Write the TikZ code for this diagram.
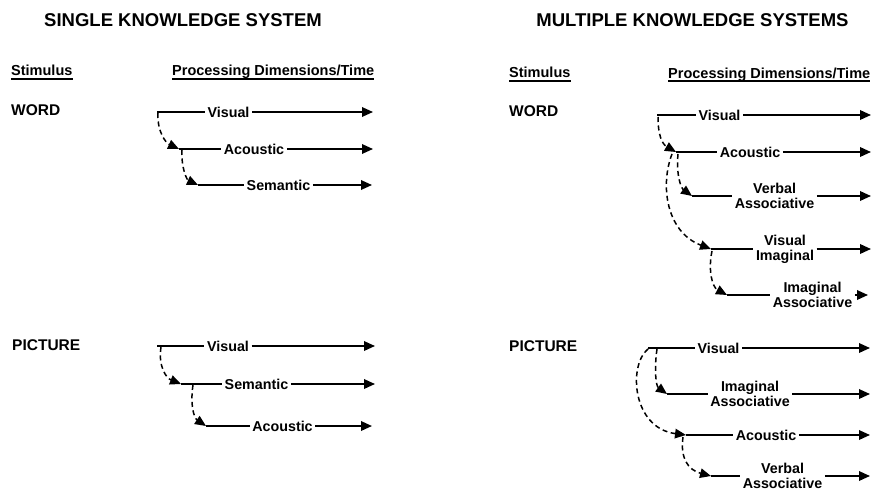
\documentclass[tikz,border=0pt]{standalone}
\usepackage{fontspec}
\setmainfont{Liberation Sans}
\usetikzlibrary{arrows.meta}

% one processing track: start point, label, arrow to the end
% #1 name, #2 start x, #3 label x, #4 end x, #5 y, #6 label text
\newcommand\proctrack[6]{%
  \coordinate (#1s) at (#2,#5);
  \coordinate (#1e) at (#4,#5);
  \node[lbl] (#1) at (#3,#5) {#6};
  \draw[track] (#1s) -- (#1.west);
  \draw[flow] (#1.east) -- (#1e);
}

\begin{document}
\begin{tikzpicture}[x=1pt,y=-1pt,
  title/.style={font=\fontsize{18.5}{20}\selectfont\bfseries, inner sep=0pt, anchor=base},
  head/.style={font=\fontsize{14.5}{16}\selectfont\bfseries, inner sep=0pt, anchor=base west},
  stim/.style={font=\fontsize{15.5}{17}\selectfont\bfseries, inner sep=0pt, anchor=base west},
  lbl/.style={font=\fontsize{14.3}{15}\selectfont\bfseries, inner xsep=2.5pt, inner ysep=0pt, align=center, anchor=center},
  track/.style={line width=1.8pt},
  flow/.style={line width=1.8pt, -{Triangle[length=11pt,width=9.5pt]}},
  spread/.style={line width=1.5pt, dash pattern=on 5pt off 3.5pt, -{Triangle[length=11pt,width=9.5pt]}},
  uline/.style={line width=1.6pt}]

\fill[white] (0,0) rectangle (882,497);
\useasboundingbox (0,0) rectangle (882,497);

% ---- headings ----
\node[title] (tl) at (183,26.3) {SINGLE KNOWLEDGE SYSTEM};
\node[title] (tr) at (692.5,27) {MULTIPLE KNOWLEDGE SYSTEMS};

\node[head] (stl) at (11,76) {Stimulus};
\node[head] (pdl) at (172,76) {Processing Dimensions/Time};
\node[head] (str) at (509,78) {Stimulus};
\node[head] (pdr) at (668,78.5) {Processing Dimensions/Time};
\foreach \h in {stl,pdl,str,pdr}
  \draw[uline] ([yshift=-2.8pt]\h.base west) -- ([yshift=-2.8pt]\h.base east);

\node[stim] (wl) at (11,115.5) {WORD};
\node[stim] (wr) at (509,117) {WORD};
\node[stim] (pl) at (12,350.5) {PICTURE};
\node[stim] (pr) at (509,351) {PICTURE};

% ---- single system, word ----
\proctrack{lw1}{157}{228.5}{373}{112}{Visual}
\proctrack{lw2}{179}{254}{373}{149}{Acoustic}
\proctrack{lw3}{198}{278.5}{372}{185}{Semantic}
\draw[spread] ([xshift=1pt,yshift=-1pt]lw1s) .. controls (157,132) and (166,143) .. (lw2s);
\draw[spread] ([xshift=3pt,yshift=-1pt]lw2s) .. controls (181,168) and (187,180) .. (lw3s);

% ---- single system, picture ----
\proctrack{lp1}{157}{228}{375}{346}{Visual}
\proctrack{lp2}{181}{256.5}{375}{384}{Semantic}
\proctrack{lp3}{206}{282.5}{372}{426}{Acoustic}
\draw[spread] ([xshift=4pt,yshift=-1pt]lp1s) .. controls (158,366) and (166,378) .. (lp2s);
\draw[spread] ([xshift=12pt,yshift=-1pt]lp2s) .. controls (190,405) and (194,418) .. (lp3s);

% ---- multiple systems, word ----
\proctrack{rw1}{657}{719.5}{871}{115}{Visual}
\proctrack{rw2}{676}{750}{871}{152}{Acoustic}
\proctrack{rw3}{692}{774.5}{871}{196}{Verbal\\Associative}
\proctrack{rw4}{711}{785}{871}{249}{Visual\\Imaginal}
\proctrack{rw5}{727}{812.5}{868}{295}{Imaginal\\Associative}
\draw[spread] ([xshift=1pt,yshift=-2pt]rw1s) .. controls (658,135) and (662,144) .. (rw2s);
\draw[spread] ([xshift=2pt,yshift=-2pt]rw2s) .. controls (676,175) and (681,188) .. (rw3s);
\draw[spread] ([xshift=-4pt,yshift=-2pt]rw2s) .. controls (660,185) and (666,232) .. (rw4s);
\draw[spread] ([xshift=1pt,yshift=-2pt]rw4s) .. controls (708,270) and (712,287) .. (rw5s);

% ---- multiple systems, picture ----
\proctrack{rp1}{648}{718.5}{870}{348}{Visual}
\proctrack{rp2}{667}{750}{870}{394}{Imaginal\\Associative}
\proctrack{rp3}{686}{766}{870}{435}{Acoustic}
\proctrack{rp4}{711}{782.5}{870}{476}{Verbal\\Associative}
\draw[spread] ([xshift=9pt,yshift=-1pt]rp1s) .. controls (654,370) and (656,386) .. (rp2s);
\draw[spread] ([yshift=-1pt]rp1s) .. controls (628,365) and (632,428) .. (rp3s);
\draw[spread] ([xshift=-3pt,yshift=-2pt]rp3s) .. controls (680,458) and (688,470) .. (rp4s);

\end{tikzpicture}
\end{document}
